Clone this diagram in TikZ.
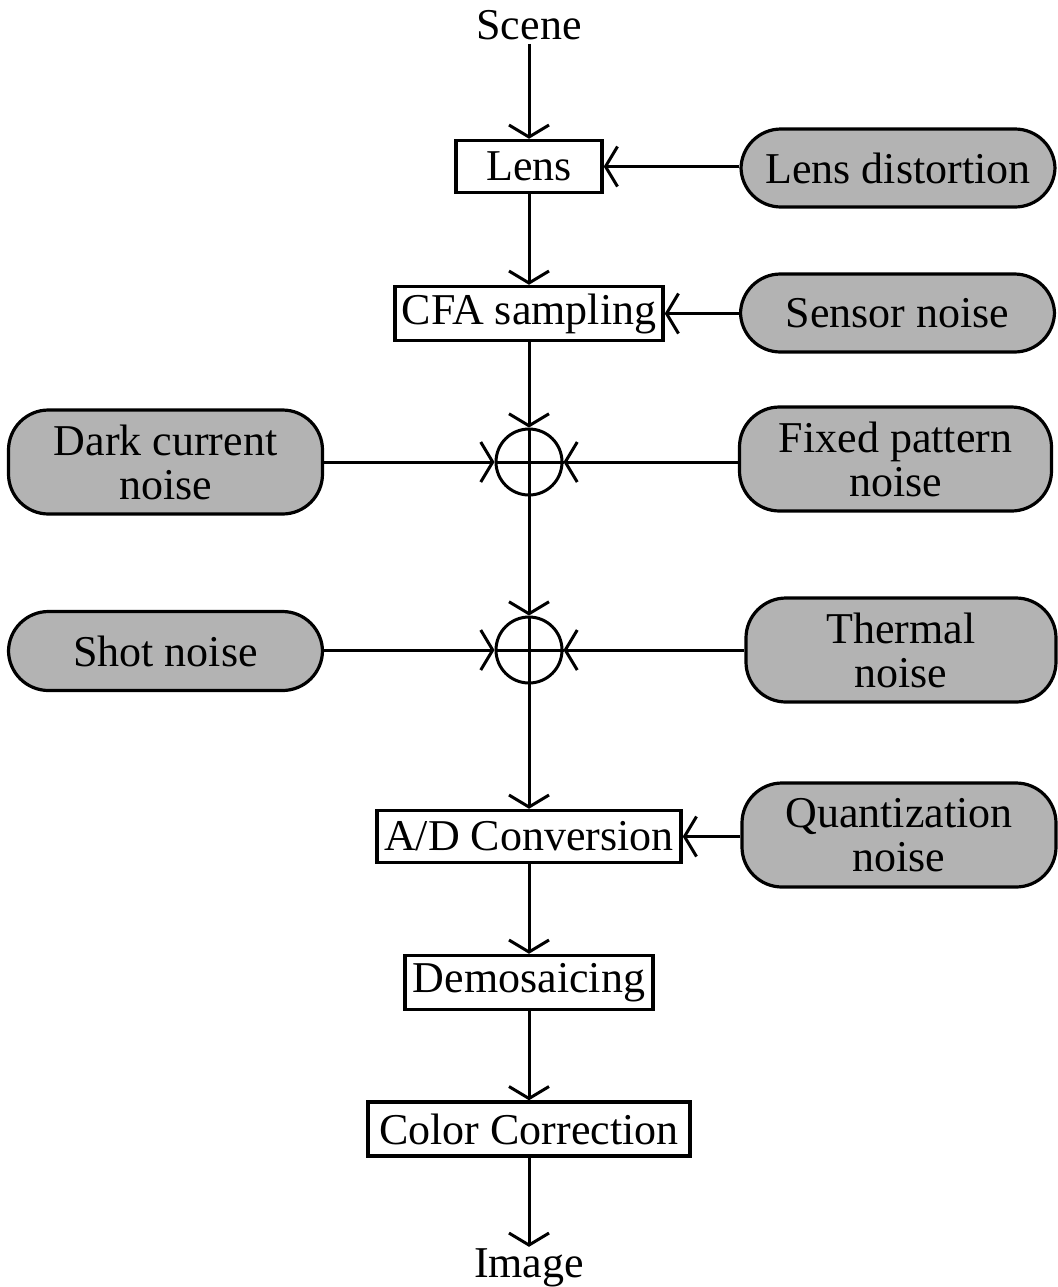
\documentclass[tikz,border=0pt]{standalone}
\usepackage{fontspec}
\setmainfont{Liberation Serif}
\usetikzlibrary{arrows.meta}
\definecolor{noisegray}{HTML}{B3B3B3}
\begin{document}
\begin{tikzpicture}[x=0.5pt,y=-0.5pt,
  font=\fontsize{22}{22}\selectfont,
  proc/.style={draw, line width=1.75pt, fill=white, inner sep=0pt},
  noise/.style={draw, line width=1.6pt, fill=noisegray, rounded corners=20pt, inner sep=0pt, align=center},
  sumc/.style={draw, circle, line width=1.5pt, inner sep=0pt, minimum size=33pt},
  lbl/.style={inner sep=2pt, anchor=base},
  conn/.style={line width=1.5pt, -{Straight Barb[length=6pt,width=20pt]}}
]
\useasboundingbox (0,0) rectangle (1058,1287);

\node[lbl] (scene) at (529,39) {Scene};
\node[proc, minimum width=73pt, minimum height=26pt] (lens) at (529,166.5) {Lens};
\node[proc, minimum width=134pt, minimum height=27pt] (cfa) at (529,313.5) {CFA sampling};
\node[sumc] (c1) at (529,462) {};
\node[sumc] (c2) at (529,650) {};
\node[proc, minimum width=152pt, minimum height=26pt] (ad) at (529,836.5) {A/D Conversion};
\node[proc, minimum width=124pt, minimum height=27pt] (demo) at (529,982.5) {Demosaicing};
\node[proc, minimum width=161pt, minimum height=27pt] (cc) at (529,1129) {Color Correction};
\node[lbl, inner sep=0.5pt] (img) at (529,1277) {Image};

\node[noise, minimum width=157pt, minimum height=39pt] (ld) at (898,168) {Lens distortion};
\node[noise, minimum width=157pt, minimum height=39pt] (sn) at (897.5,313) {Sensor noise};
\node[noise, minimum width=157pt, minimum height=52pt] (dc) at (165.5,462) {Dark current\\noise};
\node[noise, minimum width=156pt, minimum height=52pt] (fp) at (895.5,459) {Fixed pattern\\noise};
\node[noise, minimum width=157pt, minimum height=39.5pt] (shot) at (165.5,651) {Shot noise};
\node[noise, minimum width=155pt, minimum height=52pt] (th) at (901,650) {Thermal\\noise};
\node[noise, minimum width=157pt, minimum height=52pt] (qn) at (899,835) {Quantization\\noise};

\draw[line width=1.5pt] (c1.north) -- (c1.south) (c1.west) -- (c1.east);
\draw[line width=1.5pt] (c2.north) -- (c2.south) (c2.west) -- (c2.east);

\draw[conn] (scene.south) -- (lens.north);
\draw[conn] (lens.south) -- (cfa.north);
\draw[conn] (cfa.south) -- (c1.north);
\draw[conn] (c1.south) -- (c2.north);
\draw[conn] (c2.south) -- (ad.north);
\draw[conn] (ad.south) -- (demo.north);
\draw[conn] (demo.south) -- (cc.north);
\draw[conn] (cc.south) -- (img.north);

\draw[conn] (ld.west |- lens.east) -- (lens.east);
\draw[conn] (sn.west |- cfa.east) -- (cfa.east);
\draw[conn] (dc.east |- c1.west) -- (c1.west);
\draw[conn] (fp.west |- c1.east) -- (c1.east);
\draw[conn] (shot.east |- c2.west) -- (c2.west);
\draw[conn] (th.west |- c2.east) -- (c2.east);
\draw[conn] (qn.west |- ad.east) -- (ad.east);
\end{tikzpicture}
\end{document}
